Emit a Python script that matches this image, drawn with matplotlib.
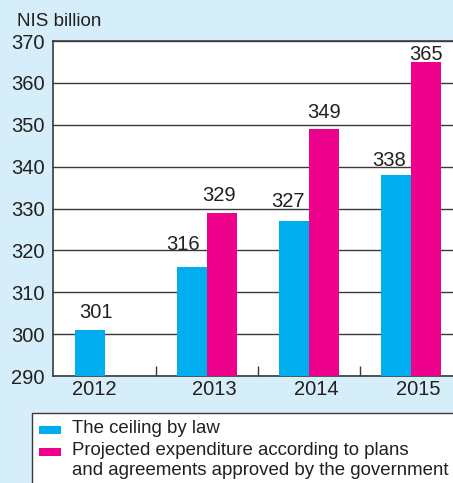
import matplotlib.pyplot as plt
from matplotlib.patches import Rectangle

# Data (NIS billion)
years = ["2012", "2013", "2014", "2015"]
ceiling = [301, 316, 327, 338]
projected = [None, 329, 349, 365]
y_ticks = [290, 300, 310, 320, 330, 340, 350, 360, 370]

# label nudges in pixels (dx, dy above bar top)
ceiling_nudge = [(6, 12), (-9, 17), (-6, 14), (-7, 9)]
projected_nudge = [None, (-3, 12), (0, 11), (0, 2)]

BG = "#d5eef9"
BLUE = "#00aeef"
MAGENTA = "#ec008c"
INK = "#231f20"
LINE = "#3a3a3a"
PT = 0.72  # points per pixel at 100 dpi

plt.rcParams['font.family'] = ['Liberation Sans', 'DejaVu Sans']

fig = plt.figure(figsize=(4.53, 4.83), dpi=100, facecolor=BG)
ax = fig.add_axes([0.117, 0.2215, 0.9, 0.6935])
ax.set_facecolor("white")

w = 0.295
x = list(range(len(years)))


def put_label(xpos, v, nudge):
    dx, dy = nudge
    ax.annotate(str(v), (xpos, v), xytext=(dx * PT, dy * PT), textcoords="offset points",
                ha="center", va="baseline", fontsize=14.5, color=INK, zorder=4,
                annotation_clip=False)


for i, v in enumerate(ceiling):
    ax.bar(i - w / 2, v - 290, width=w, bottom=290, color=BLUE, zorder=3)
    put_label(i - w / 2, v, ceiling_nudge[i])

for i, v in enumerate(projected):
    if v is None:
        continue
    ax.bar(i + w / 2, v - 290, width=w, bottom=290, color=MAGENTA, zorder=3)
    put_label(i + w / 2, v, projected_nudge[i])

ax.set_ylim(290, 370)
ax.set_xlim(-0.51, 3.49)
ax.set_yticks(y_ticks)
ax.yaxis.grid(True, color=LINE, linewidth=1.0, zorder=1)
ax.tick_params(axis="y", length=0, labelsize=14.5, labelcolor=INK, pad=6)

# year labels under the groups, separator ticks between them
ax.set_xticks([i + 0.5 for i in x[:-1]])
ax.set_xticklabels([])
ax.tick_params(axis="x", direction="in", length=7, width=1, color=LINE)
for i, yr in enumerate(years):
    ax.text(i + (-0.11 if i == 0 else 0.07), 289, yr, ha="center", va="top",
            fontsize=14.5, color=INK, transform=ax.transData)

for side in ["left", "top", "bottom"]:
    ax.spines[side].set_color(LINE)
    ax.spines[side].set_linewidth(1.2)
ax.spines["right"].set_visible(False)

fig.text(17 / 453, 1 - 21 / 483, "NIS billion", fontsize=13.5, color=INK,
         ha="left", va="center")

# legend box at the bottom
fig.patches.append(Rectangle((32 / 453, -0.05), 1.0, 0.05 + (483 - 413) / 483,
                             transform=fig.transFigure, facecolor="white",
                             edgecolor=LINE, linewidth=1.0))
legend_items = [
    (BLUE, "The ceiling by law"),
    (MAGENTA, "Projected expenditure according to plans\nand agreements approved by the government"),
]
rows = [430, 452]
for (col, label), yy in zip(legend_items, rows):
    fig.patches.append(Rectangle((39 / 453, 1 - (yy + 4) / 483), 22 / 453, 8 / 483,
                                 transform=fig.transFigure, facecolor=col,
                                 edgecolor="none"))
    fig.text(72 / 453, 1 - (yy - 10) / 483, label, fontsize=13.4, color=INK,
             ha="left", va="top", linespacing=1.2)

fig.savefig("out.png", dpi=100, facecolor=BG)
